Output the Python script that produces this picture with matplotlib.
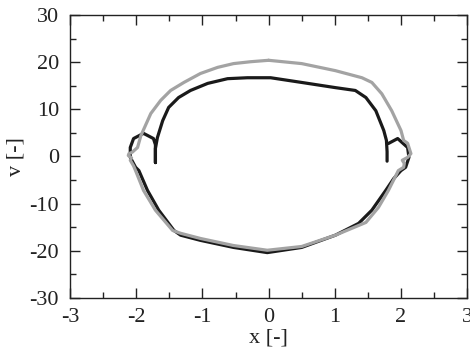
import matplotlib
matplotlib.use("Agg")
import matplotlib.pyplot as plt
from matplotlib.ticker import MultipleLocator

plt.rcParams['font.family'] = ['Liberation Serif', 'DejaVu Serif']

# Black trajectory: right hook, upper branch, left hook and loop, lower branch, right loop
black_x = [1.79, 1.79, 1.78, 1.74, 1.62, 1.47, 1.31, 1.01, 0.50, 0.03, -0.32, -0.62,
           -0.92, -1.18, -1.36, -1.51, -1.60, -1.68, -1.71, -1.71, -1.71, -1.74, -1.89,
           -2.04, -2.09, -2.09, -2.01, -1.96, -1.83, -1.66, -1.43, -1.33, -1.03, -0.53,
           -0.02, 0.50, 1.01, 1.36, 1.56, 1.77, 1.89, 2.00, 2.07, 2.12, 2.10, 1.95, 1.81]
black_v = [-1.0, 1.0, 3.4, 5.5, 9.7, 12.5, 14.0, 14.6, 15.7, 16.7, 16.7, 16.5,
           15.5, 14.0, 12.5, 10.4, 7.6, 4.0, 1.7, -1.3, 2.5, 3.8, 4.9,
           3.8, 1.9, -0.2, -2.3, -3.0, -7.2, -11.4, -15.7, -16.7, -17.8, -19.3,
           -20.4, -19.3, -16.7, -14.2, -11.4, -7.2, -4.7, -3.0, -2.3, -0.2, 1.9, 3.8, 2.75]

# Gray trajectory: closed orbit with small kinks near the turning points
gray_x = [0.0, 0.50, 1.01, 1.41, 1.56, 1.71, 1.86, 2.00, 2.04, 2.10, 2.15, 2.10, 2.02,
          2.05, 2.04, 1.96, 1.81, 1.66, 1.47, 1.01, 0.50, -0.02, -0.53, -1.03, -1.33,
          -1.45, -1.71, -1.89, -2.01, -2.04, -2.09, -2.07, -2.12, -2.11, -2.06, -1.98,
          -1.93, -1.78, -1.63, -1.48, -1.28, -1.03, -0.77, -0.53, -0.27, 0.0]
gray_v = [20.4, 19.7, 18.2, 16.7, 15.7, 13.3, 9.7, 5.5, 3.4, 2.8, 0.6, -0.2, -0.8,
          -1.5, -2.3, -3.0, -7.2, -10.8, -14.0, -16.7, -19.1, -19.9, -18.9, -17.4, -16.3,
          -15.7, -11.4, -7.2, -3.0, -2.0, -0.8, -0.3, 0.2, 0.6, 0.9, 1.9,
          4.4, 9.1, 11.9, 14.0, 15.7, 17.6, 18.9, 19.7, 20.1, 20.4]

x_ticks = [-3, -2, -1, 0, 1, 2, 3]
v_ticks = [-30, -20, -10, 0, 10, 20, 30]

fig = plt.figure(figsize=(4.7, 3.5), dpi=100)
ax = fig.add_axes([0.149, 0.149, 0.845, 0.808])

ax.plot(black_x, black_v, color='#1a1a1a', lw=2.3, solid_joinstyle='round',
        solid_capstyle='round', zorder=2)
ax.plot(gray_x, gray_v, color='#a3a3a3', lw=2.3, solid_joinstyle='round',
        solid_capstyle='round', zorder=3)

ax.set_xlim(-3, 3)
ax.set_ylim(-30, 30)
ax.set_xticks(x_ticks)
ax.set_yticks(v_ticks)
ax.set_xticklabels([str(t) for t in x_ticks])
ax.set_yticklabels([str(t) for t in v_ticks])
ax.xaxis.set_minor_locator(MultipleLocator(0.5))
ax.yaxis.set_minor_locator(MultipleLocator(5))

ax.tick_params(which='both', direction='in', top=True, right=True,
               color='#222222', width=1.0, labelsize=16, labelcolor='#222222')
ax.tick_params(which='major', length=7)
ax.tick_params(which='minor', length=4)
ax.tick_params(axis='y', which='major', pad=8)
ax.tick_params(axis='x', which='major', pad=7)

for s in ax.spines.values():
    s.set_linewidth(1.0)
    s.set_color('#222222')

ax.set_xlabel('x [-]', fontsize=16, color='#222222', labelpad=1.5)
ax.set_ylabel('v [-]', fontsize=16, color='#222222', labelpad=3)

fig.savefig('out.png', dpi=100)
